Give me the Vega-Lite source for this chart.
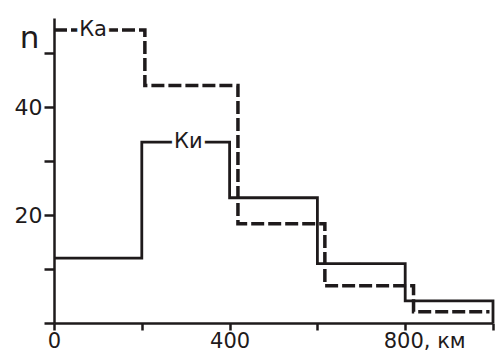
{
  "$schema": "https://vega.github.io/schema/vega-lite/v6.json",
  "width": 439,
  "height": 305,
  "autosize": {"type": "none"},
  "padding": {"left": 54, "top": 18, "right": 2, "bottom": 28},
  "background": "white",
  "config": {
    "view": {"stroke": null},
    "font": "DejaVu Sans",
    "axis": {
      "domainColor": "#1e1a1b",
      "domainWidth": 2.5,
      "tickColor": "#1e1a1b",
      "tickWidth": 2.5,
      "labelColor": "#1e1a1b",
      "labelFont": "DejaVu Sans",
      "labelFontSize": 22,
      "grid": false,
      "labelOverlap": false,
      "labelBound": false,
      "labelFlush": false
    }
  },
  "datasets": {
    "steps": [
      {"series": "Ки", "km": 0, "n": 12},
      {"series": "Ки", "km": 200, "n": 33.5},
      {"series": "Ки", "km": 400, "n": 23.2},
      {"series": "Ки", "km": 600, "n": 11},
      {"series": "Ки", "km": 800, "n": 4.1},
      {"series": "Ки", "km": 1000, "n": 0},
      {"series": "Ка", "km": 0, "n": 54.3},
      {"series": "Ка", "km": 207, "n": 44},
      {"series": "Ка", "km": 419, "n": 18.4},
      {"series": "Ка", "km": 617, "n": 6.9},
      {"series": "Ка", "km": 819, "n": 2.1},
      {"series": "Ка", "km": 992, "n": 2.1}
    ],
    "labels": [
      {"series": "Ка", "km": 89, "n": 54.3},
      {"series": "Ки", "km": 306, "n": 33.5}
    ]
  },
  "encoding": {
    "x": {
      "field": "km",
      "type": "quantitative",
      "scale": {"domain": [0, 1000], "nice": false, "zero": true},
      "axis": {
        "orient": "bottom",
        "title": null,
        "values": [0, 200, 400, 600, 800, 1000],
        "tickSize": 7,
        "labelPadding": 0,
        "labelFontSize": 21,
        "labelExpr": "datum.value == 800 ? '800, км' : (datum.value % 400 == 0 ? datum.label : '')",
        "labelAlign": {"condition": {"test": "datum.value == 800", "value": "left"}, "value": "center"},
        "labelOffset": {"condition": {"test": "datum.value == 800", "value": -22}, "value": 0}
      }
    },
    "y": {
      "field": "n",
      "type": "quantitative",
      "scale": {"domain": [0, 56.5], "nice": false},
      "axis": {
        "values": [0, 10, 20, 30, 40, 50],
        "tickSize": 10,
        "labelPadding": 2,
        "labelExpr": "datum.value == 20 || datum.value == 40 ? datum.label : ''",
        "title": "n",
        "titleAngle": 0,
        "titleFont": "DejaVu Sans",
        "titleFontSize": 31,
        "titleFontWeight": "normal",
        "titleColor": "#1e1a1b",
        "titleAlign": "center",
        "titleBaseline": "alphabetic",
        "titleX": -25,
        "titleY": 29
      }
    }
  },
  "layer": [
    {
      "data": {"name": "steps"},
      "mark": {"type": "line", "interpolate": "step-after", "color": "#1e1a1b", "strokeCap": "butt"},
      "encoding": {
        "detail": {"field": "series"},
        "strokeDash": {
          "field": "series",
          "type": "nominal",
          "scale": {"domain": ["Ки", "Ка"], "range": [[1, 0], [13, 4]]},
          "legend": null
        },
        "strokeWidth": {
          "field": "series",
          "type": "nominal",
          "scale": {"domain": ["Ки", "Ка"], "range": [2.8, 3.5]},
          "legend": null
        }
      }
    },
    {
      "data": {"name": "labels"},
      "mark": {"type": "text", "fontSize": 21, "font": "DejaVu Sans", "stroke": "white", "strokeWidth": 8, "fill": "white", "baseline": "middle"},
      "encoding": {"text": {"field": "series"}}
    },
    {
      "data": {"name": "labels"},
      "mark": {"type": "text", "fontSize": 21, "font": "DejaVu Sans", "fill": "#1e1a1b", "baseline": "middle"},
      "encoding": {"text": {"field": "series"}}
    }
  ]
}
